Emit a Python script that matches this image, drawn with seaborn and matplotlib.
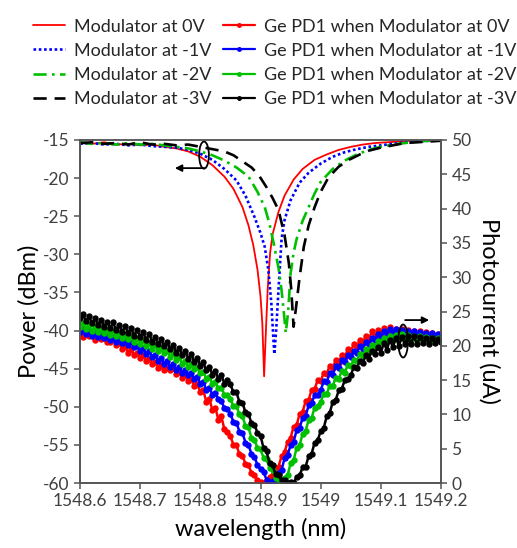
import numpy as np
import matplotlib
matplotlib.use("Agg")
import matplotlib.pyplot as plt
from matplotlib.patches import Ellipse
import seaborn as sns

# Modulator transmission (left axis, dBm)
wl_m0 = [1548.60, 1548.62, 1548.64, 1548.66, 1548.68, 1548.70, 1548.72, 1548.74, 1548.76, 1548.78,
         1548.80, 1548.82, 1548.84, 1548.855, 1548.87, 1548.88, 1548.888, 1548.895, 1548.90, 1548.903,
         1548.906, 1548.909, 1548.912, 1548.916, 1548.92, 1548.93, 1548.94, 1548.955, 1548.97, 1548.99,
         1549.01, 1549.03, 1549.05, 1549.07, 1549.09, 1549.11, 1549.13, 1549.15, 1549.17, 1549.20]
pw_m0 = [-15.4, -15.5, -15.3, -15.6, -15.5, -15.7, -15.6, -15.9, -16.1, -16.5,
         -17.2, -18.3, -19.8, -21.4, -23.8, -26.2, -28.8, -32.0, -35.5, -39.0,
         -46.0, -40.0, -34.5, -29.8, -27.4, -24.4, -22.3, -20.2, -18.8, -17.6,
         -16.9, -16.3, -15.9, -15.6, -15.4, -15.3, -15.2, -15.1, -15.1, -15.0]

wl_m1 = [1548.60, 1548.62, 1548.64, 1548.66, 1548.68, 1548.70, 1548.72, 1548.74, 1548.76, 1548.78,
         1548.80, 1548.82, 1548.84, 1548.86, 1548.875, 1548.89, 1548.90, 1548.907, 1548.913, 1548.918,
         1548.921, 1548.923, 1548.926, 1548.93, 1548.935, 1548.94, 1548.95, 1548.965, 1548.98, 1549.00,
         1549.02, 1549.04, 1549.06, 1549.08, 1549.10, 1549.12, 1549.14, 1549.16, 1549.18, 1549.20]
pw_m1 = [-15.5, -15.4, -15.6, -15.5, -15.7, -15.6, -15.8, -15.9, -16.0, -16.3,
         -16.8, -17.6, -18.8, -20.3, -22.3, -25.1, -27.2, -29.0, -32.0, -36.4,
         -40.5, -43.1, -40.0, -34.5, -28.0, -25.5, -22.9, -20.6, -19.3, -18.1,
         -17.2, -16.6, -16.2, -15.9, -15.7, -15.5, -15.3, -15.2, -15.1, -15.0]

wl_m2 = [1548.60, 1548.62, 1548.64, 1548.66, 1548.68, 1548.70, 1548.72, 1548.74, 1548.76, 1548.78,
         1548.80, 1548.82, 1548.84, 1548.86, 1548.88, 1548.895, 1548.907, 1548.915, 1548.923, 1548.93,
         1548.935, 1548.939, 1548.942, 1548.946, 1548.95, 1548.955, 1548.96, 1548.97, 1548.98, 1548.99,
         1549.00, 1549.02, 1549.04, 1549.06, 1549.08, 1549.10, 1549.12, 1549.14, 1549.16, 1549.18, 1549.20]
pw_m2 = [-15.3, -15.5, -15.4, -15.6, -15.4, -15.6, -15.5, -15.7, -15.9, -16.1,
         -16.5, -17.0, -17.7, -18.6, -19.8, -21.8, -23.8, -26.0, -29.0, -31.8,
         -34.7, -37.8, -40.3, -37.5, -32.5, -29.8, -28.0, -25.6, -23.8, -22.0,
         -20.5, -18.8, -17.7, -16.9, -16.3, -15.9, -15.6, -15.4, -15.2, -15.1, -15.0]

wl_m3 = [1548.60, 1548.62, 1548.64, 1548.66, 1548.68, 1548.70, 1548.72, 1548.74, 1548.76, 1548.78,
         1548.80, 1548.82, 1548.84, 1548.855, 1548.87, 1548.885, 1548.897, 1548.91, 1548.92, 1548.93,
         1548.94, 1548.947, 1548.951, 1548.955, 1548.959, 1548.965, 1548.972, 1548.98, 1548.99, 1549.00,
         1549.013, 1549.03, 1549.047, 1549.065, 1549.08, 1549.10, 1549.12, 1549.14, 1549.16, 1549.18, 1549.20]
pw_m3 = [-15.4, -15.3, -15.5, -15.4, -15.6, -15.3, -15.6, -15.5, -15.7, -15.6,
         -15.9, -16.2, -16.5, -17.0, -17.8, -18.6, -19.6, -21.2, -22.6, -24.2,
         -27.5, -31.1, -34.5, -39.5, -37.0, -33.0, -29.0, -26.2, -23.8, -21.8,
         -19.9, -18.5, -17.6, -16.9, -16.4, -16.0, -15.7, -15.4, -15.3, -15.2, -15.1]

# Ge PD1 photocurrent (right axis, uA), sweep 1548.6 .. 1549.2 nm, 121 points
wl_pd = np.linspace(1548.6, 1549.2, 121)
pd_0v = [22.0, 21.3, 22.4, 21.5, 21.9, 20.9, 21.6, 21.0, 21.4, 20.6,
         20.5, 21.0, 20.1, 20.4, 19.6, 19.9, 19.0, 19.5, 18.6, 19.0,
         18.2, 18.7, 17.8, 18.1, 17.3, 17.7, 16.8, 17.2, 16.4, 16.8,
         16.4, 16.8, 15.9, 16.2, 15.3, 15.7, 14.9, 15.2, 14.1, 14.4,
         13.2, 13.5, 11.8, 12.3, 10.6, 11.0, 9.2, 9.7, 7.8, 7.5,
         6.8, 5.6, 5.5, 4.2, 4.0, 2.8, 2.6, 1.5, 1.1, 0.4,
         0.1, 0.0, 0.5, 0.9, 1.1, 2.2, 2.4, 3.9, 4.5, 6.0,
         6.6, 8.2, 8.4, 10.1, 10.4, 11.9, 12.1, 13.6, 13.7, 15.0,
         14.8, 16.1, 15.9, 17.1, 16.8, 17.9, 17.5, 18.7, 18.3, 19.5,
         19.1, 20.3, 19.8, 20.9, 20.4, 21.5, 20.9, 22.1, 21.3, 22.3,
         21.6, 22.6, 21.8, 22.7, 21.9, 22.5, 21.7, 22.4, 21.8, 22.3,
         21.7, 22.2, 21.5, 22.1, 21.4, 22.0, 21.3, 21.9, 21.2, 21.7, 21.3]
pd_1v = [22.0, 22.5, 21.7, 22.2, 21.5, 21.9, 21.3, 21.8, 21.1, 21.5,
         20.8, 21.3, 20.6, 21.1, 20.4, 20.9, 20.1, 20.5, 19.8, 20.0,
         19.2, 19.7, 18.8, 19.2, 18.3, 18.7, 17.8, 18.2, 17.4, 17.8,
         16.9, 17.4, 16.5, 16.9, 16.1, 16.5, 15.7, 16.1, 15.2, 15.5,
         14.5, 14.7, 13.6, 13.9, 12.9, 13.1, 12.2, 12.0, 10.9, 10.8,
         10.1, 8.9, 8.8, 7.5, 7.3, 5.9, 5.6, 4.2, 3.8, 2.6,
         2.0, 1.6, 0.5, 0.0, 0.3, 0.5, 1.5, 1.9, 3.6, 4.1,
         5.5, 6.0, 7.7, 8.0, 9.5, 9.8, 11.3, 11.6, 12.9, 12.9,
         13.5, 14.8, 14.7, 16.0, 15.8, 17.0, 16.8, 17.9, 17.6, 18.7,
         18.3, 19.3, 18.9, 20.0, 19.6, 20.6, 20.2, 21.2, 20.8, 21.7,
         21.2, 22.1, 21.5, 22.5, 21.7, 22.4, 21.6, 22.3, 21.6, 22.2,
         21.6, 22.1, 21.5, 22.0, 21.3, 21.9, 21.4, 21.8, 21.2, 21.7, 21.3]
pd_2v = [22.7, 23.3, 22.5, 23.0, 22.2, 22.8, 22.0, 22.6, 21.8, 22.3,
         21.6, 22.1, 21.4, 21.9, 21.1, 21.7, 21.0, 21.4, 20.6, 21.1,
         20.3, 20.8, 20.0, 20.4, 19.6, 20.1, 19.3, 19.7, 18.9, 19.3,
         18.4, 18.9, 17.9, 18.3, 17.4, 17.8, 16.9, 17.4, 16.6, 16.9,
         16.0, 16.2, 15.2, 15.5, 14.5, 14.7, 13.8, 13.9, 12.9, 12.9,
         12.3, 11.2, 11.2, 10.0, 9.8, 8.3, 8.1, 6.6, 6.3, 5.1,
         4.9, 3.7, 3.5, 2.2, 1.9, 0.8, 0.4, 0.0, 0.8, 1.1,
         2.9, 3.3, 5.1, 5.5, 7.2, 7.6, 9.2, 9.5, 11.0, 11.2,
         11.8, 13.0, 13.0, 14.2, 14.2, 15.3, 15.2, 16.3, 16.1, 17.2,
         17.0, 18.0, 17.8, 18.8, 18.5, 19.5, 19.2, 20.1, 19.8, 20.7,
         20.5, 21.2, 20.7, 21.5, 20.9, 21.6, 21.0, 21.7, 21.0, 21.6,
         20.9, 21.5, 20.8, 21.4, 20.7, 21.3, 20.6, 21.2, 20.6, 21.1, 20.6]
pd_3v = [24.0, 24.6, 23.6, 24.3, 23.3, 24.0, 23.1, 23.8, 22.8, 23.5,
         22.6, 23.4, 22.3, 23.1, 22.0, 22.9, 21.8, 22.6, 21.5, 22.3,
         21.3, 22.0, 20.9, 21.7, 20.6, 21.3, 20.2, 21.0, 19.9, 20.6,
         19.5, 20.1, 19.0, 19.7, 18.6, 19.2, 18.1, 18.8, 17.6, 18.2,
         17.1, 17.6, 16.4, 16.9, 15.8, 16.3, 15.2, 15.7, 14.5, 15.0,
         14.4, 13.2, 13.2, 11.8, 11.7, 10.3, 10.1, 8.7, 8.5, 7.3,
         6.9, 5.1, 4.6, 2.9, 2.6, 1.3, 1.2, 0.4, 0.5, 0.0,
         0.2, 0.0, 0.9, 1.1, 2.3, 2.4, 3.9, 4.3, 5.9, 6.2,
         7.6, 8.0, 9.7, 10.2, 11.8, 12.1, 13.5, 13.7, 15.0, 15.1,
         15.7, 16.9, 16.7, 17.8, 17.5, 18.6, 18.1, 19.3, 18.8, 19.8,
         19.0, 20.4, 19.4, 20.9, 19.8, 21.2, 20.0, 21.3, 20.2, 21.4,
         20.3, 21.4, 20.2, 21.3, 20.4, 21.2, 20.3, 21.1, 20.4, 21.0, 20.6]

mod_labels = ["Modulator at 0V", "Modulator at -1V", "Modulator at -2V", "Modulator at -3V"]
pd_labels = ["Ge PD1 when Modulator at 0V", "Ge PD1 when Modulator at -1V",
             "Ge PD1 when Modulator at -2V", "Ge PD1 when Modulator at -3V"]
colors = ["#ff0000", "#0000ff", "#00c000", "#000000"]
mod_styles = ["-", (0, (1, 1)), (0, (5, 2, 1, 2)), (0, (5, 3))]
xtick_vals = [1548.6, 1548.7, 1548.8, 1548.9, 1549.0, 1549.1, 1549.2]
xtick_text = ["1548.6", "1548.7", "1548.8", "1548.9", "1549", "1549.1", "1549.2"]

sns.set_theme(style="ticks")
plt.rcParams["font.family"] = ["Lato", "DejaVu Sans"]
plt.rcParams["axes.unicode_minus"] = False
txt = "#404040"
spine_c = "#555555"

fig = plt.figure(figsize=(5.17, 5.48), dpi=100)
ax = fig.add_axes([80 / 517, 1 - 483 / 548, 361 / 517, 343 / 548])
ax2 = ax.twinx()

handles = []
mod_x = [wl_m0, wl_m1, wl_m2, wl_m3]
mod_y = [pw_m0, pw_m1, pw_m2, pw_m3]
for i in range(4):
    lw = 1.3 if i == 0 else 1.9
    sns.lineplot(x=mod_x[i], y=mod_y[i], ax=ax, color=colors[i], linestyle=mod_styles[i],
                 lw=lw, sort=False, estimator=None)
    handles.append(plt.Line2D([], [], color=colors[i], linestyle=mod_styles[i], lw=lw))

pd_y = [pd_0v, pd_1v, pd_2v, pd_3v]
for i in range(4):
    sns.lineplot(x=wl_pd, y=pd_y[i], ax=ax2, color=colors[i], lw=1.8, marker="o",
                 markersize=4.6, markeredgewidth=0, sort=False, estimator=None)
    handles.append(plt.Line2D([], [], color=colors[i], lw=1.6, marker="o", markersize=2.5))

ax.set_xlim(1548.6, 1549.2)
ax.set_ylim(-60, -15)
ax2.set_ylim(0, 50)
ax.set_xticks(xtick_vals)
ax.set_xticklabels(xtick_text)
ax.set_yticks(np.arange(-60, -14, 5))
ax2.set_yticks(np.arange(0, 51, 5))

for a in (ax, ax2):
    for s in a.spines.values():
        s.set_color(spine_c)
        s.set_linewidth(1.2)
    a.tick_params(colors=spine_c, labelcolor=txt, labelsize=12.5, length=4, width=1.1, direction="out")
ax.spines["top"].set_color("#888888")

ax.set_xlabel("wavelength (nm)", fontsize=17, color="black", labelpad=6)
ax.set_ylabel("Power (dBm)", fontsize=17, color="black", labelpad=2)
ax2.set_ylabel("Photocurrent (uA)", fontsize=17, color="black", rotation=270, labelpad=20)

# ellipse + arrow markers for axis assignment
ax.add_patch(Ellipse((0.3435, 0.956), 0.027, 0.079, transform=ax.transAxes,
                     fill=False, ec="black", lw=1.3, clip_on=False, zorder=5))
ax.annotate("", xy=(0.255, 0.918), xytext=(0.352, 0.918), xycoords="axes fraction",
            arrowprops=dict(arrowstyle="-|>", color="black", lw=1.3, mutation_scale=10))
ax2.add_patch(Ellipse((0.895, 0.414), 0.027, 0.096, transform=ax2.transAxes,
                      fill=False, ec="black", lw=1.3, clip_on=False, zorder=5))
ax2.annotate("", xy=(0.975, 0.475), xytext=(0.893, 0.475), xycoords="axes fraction",
             arrowprops=dict(arrowstyle="-|>", color="black", lw=1.3, mutation_scale=10))

fig.legend(handles, mod_labels + pd_labels, ncol=2, loc="upper left",
           bbox_to_anchor=(20 / 517, 1 - 6 / 548), frameon=False, fontsize=13,
           handlelength=1.8, handletextpad=0.5, columnspacing=0.6, labelspacing=0.45,
           borderpad=0.2)

fig.savefig("out.png", dpi=100)
